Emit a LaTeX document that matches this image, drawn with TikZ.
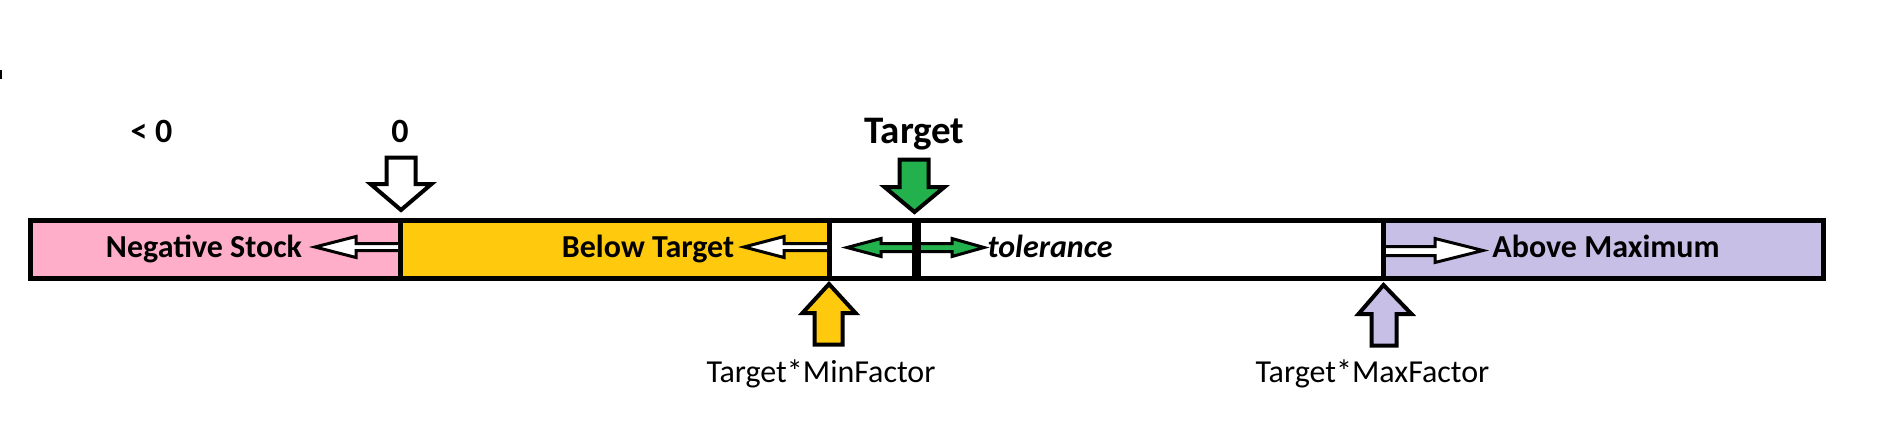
\documentclass[tikz,border=0pt]{standalone}
\usepackage{fontspec}
\setmainfont{Carlito}
\definecolor{pinkc}{HTML}{FFAEC9}
\definecolor{goldc}{HTML}{FFC90E}
\definecolor{greenc}{HTML}{22B14C}
\definecolor{lavc}{HTML}{C8BFE7}
\tikzset{
  lbl/.style={anchor=base,inner sep=0pt,font=\fontsize{32}{32}\selectfont\bfseries},
  toplbl/.style={anchor=base,inner sep=0pt,font=\fontsize{34}{34}\selectfont\bfseries},
  sublbl/.style={anchor=base,inner sep=0pt,font=\fontsize{32}{32}\selectfont},
  bigarrow/.style={draw=black,line width=4,line join=miter},
  smallarrow/.style={draw=black,line width=3,line join=miter},
  frameline/.style={draw=black,line width=5},
}
\begin{document}
\begin{tikzpicture}[x=1pt,y=-1pt]
\useasboundingbox (0,0) rectangle (1890,431);
% bar segments
\coordinate (bl) at (30.5,220.5);
\coordinate (br) at (1823,278.5);
\fill[pinkc] (30.5,220.5) rectangle (400.5,278.5);
\fill[goldc] (400.5,220.5) rectangle (829.5,278.5);
\fill[white] (829.5,220.5) rectangle (1383.5,278.5);
\fill[lavc] (1383.5,220.5) rectangle (1823,278.5);
\draw[frameline] (bl) rectangle (br);
\draw[frameline] (400.5,220.5) -- (400.5,278.5);
\draw[frameline] (829.5,220.5) -- (829.5,278.5);
\draw[black,line width=9] (916.5,220.5) -- (916.5,278.5);
\draw[frameline] (1383.5,220.5) -- (1383.5,278.5);
% tiny mark at left edge
\fill[black] (0,70) rectangle (1.5,79);
% top labels
\node[toplbl] (lt0) at (151.5,142) {< 0};
\node[toplbl] (zero) at (400,142) {0};
\node[toplbl,font=\fontsize{39}{39}\selectfont\bfseries] (target) at (914.5,143) {Target};
% down arrows
\draw[bigarrow,fill=white] (386.5,157.5) -- (415.5,157.5) -- (415.5,184) -- (431.5,184)
  -- (401,210) -- (370.5,184) -- (386.5,184) -- cycle;
\draw[bigarrow,fill=greenc] (899.5,159.5) -- (928.5,159.5) -- (928.5,187) -- (944.5,187)
  -- (914.5,212) -- (884.5,187) -- (899.5,187) -- cycle;
% up arrows
\draw[bigarrow,fill=goldc] (814.5,344.5) -- (842.5,344.5) -- (842.5,313) -- (855.5,313)
  -- (829,284) -- (802.5,313) -- (814.5,313) -- cycle;
\draw[bigarrow,fill=lavc] (1371.5,345.5) -- (1396.5,345.5) -- (1396.5,314) -- (1411.5,314)
  -- (1383.5,285) -- (1358.5,314) -- (1371.5,314) -- cycle;
% small white arrows in bar
\draw[smallarrow,fill=white] (398,243.5) -- (356,243.5) -- (356,236.5) -- (315,247)
  -- (356,257.5) -- (356,250.5) -- (398,250.5);
\draw[smallarrow,fill=white] (827,243.5) -- (784,243.5) -- (784,236.5) -- (744,247)
  -- (784,257.5) -- (784,250.5) -- (827,250.5);
\draw[smallarrow,fill=white] (1386,246.5) -- (1435,246.5) -- (1435,238.5) -- (1483,250.5)
  -- (1435,262.5) -- (1435,255.5) -- (1386,255.5);
% green double arrow
\draw[smallarrow,fill=greenc] (912,243.5) -- (881,243.5) -- (881,238.5) -- (847,247.5)
  -- (881,256.5) -- (881,251.5) -- (912,251.5);
\draw[smallarrow,fill=greenc] (921,243.5) -- (952,243.5) -- (952,238.5) -- (984,247.5)
  -- (952,256.5) -- (952,251.5) -- (921,251.5);
% bar labels
\node[lbl] (neg) at (204,257) {Negative Stock};
\node[lbl] (below) at (648,257) {Below Target};
\node[lbl,font=\fontsize{32}{32}\selectfont\bfseries\itshape] (tol) at (1050,257) {tolerance};
\node[lbl] (above) at (1606,257) {Above Maximum};
% bottom labels
\node[sublbl] (minf) at (821,382) {Target*MinFactor};
\node[sublbl] (maxf) at (1372.5,382) {Target*MaxFactor};
\end{tikzpicture}
\end{document}
